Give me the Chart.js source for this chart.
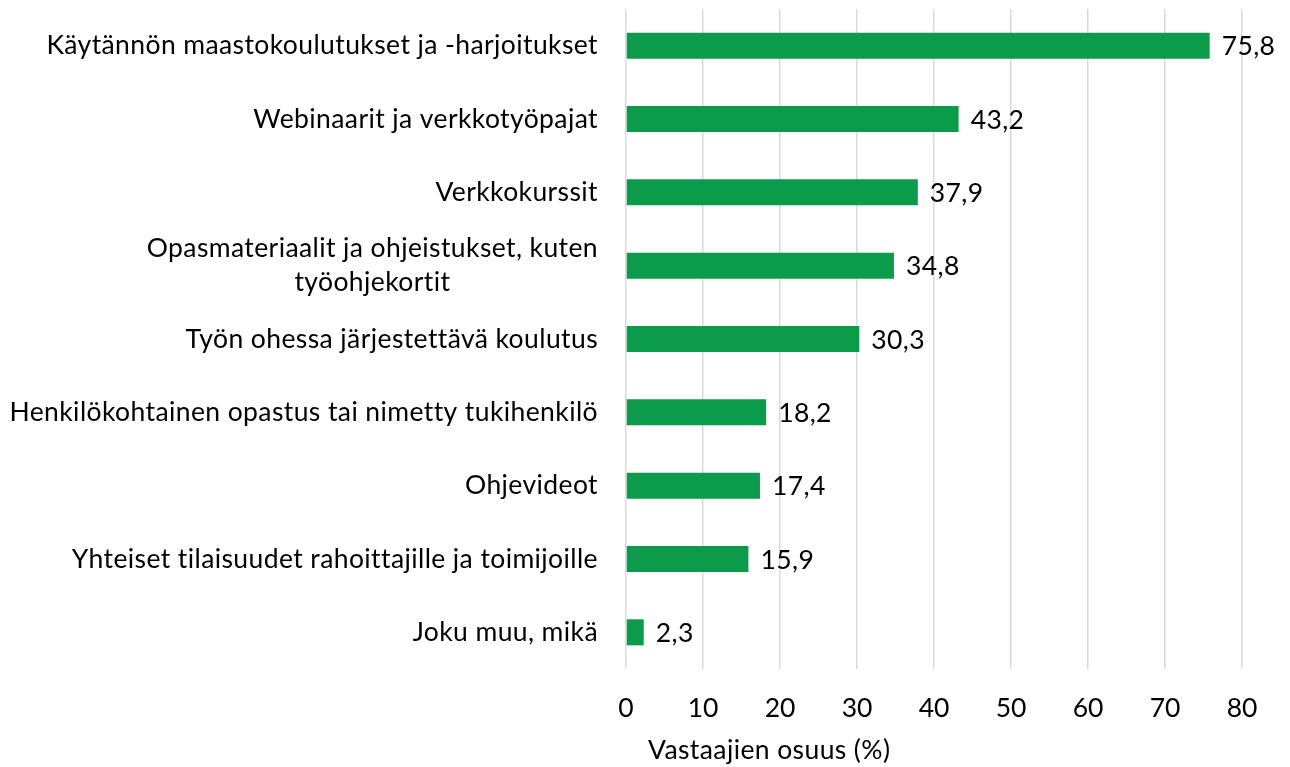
<!DOCTYPE html>
<html>
<head>
<meta charset="utf-8">
<script src="https://cdn.jsdelivr.net/npm/chart.js@4.4.1/dist/chart.umd.min.js"></script>
<style>
  html, body { margin: 0; padding: 0; background: #fff; }
</style>
</head>
<body>
<canvas id="Chart1" width="1290" height="767"></canvas>
<script>
// data
var categories = [
    ["Käytännön maastokoulutukset ja -harjoitukset"],
    ["Webinaarit ja verkkotyöpajat"],
    ["Verkkokurssit"],
    ["Opasmateriaalit ja ohjeistukset, kuten", "työohjekortit"],
    ["Työn ohessa järjestettävä koulutus"],
    ["Henkilökohtainen opastus tai nimetty tukihenkilö"],
    ["Ohjevideot"],
    ["Yhteiset tilaisuudet rahoittajille ja toimijoille"],
    ["Joku muu, mikä"]
];
var values = [75.8, 43.2, 37.9, 34.8, 30.3, 18.2, 17.4, 15.9, 2.3];
var tickValues = [0, 10, 20, 30, 40, 50, 60, 70, 80];
var axisTitle = "Vastaajien osuus (%)";

var FONT = "Lato, 'Liberation Sans', sans-serif";
var FONT_SIZE = 26.5;

var labelPlugin = {
    id: 'labelPlugin',
    afterDatasetsDraw: function (chart) {
        var ctx = chart.ctx;
        var yScale = chart.scales.y;
        var area = chart.chartArea;
        var meta = chart.getDatasetMeta(0);
        ctx.save();
        ctx.font = FONT_SIZE + 'px ' + FONT;
        ctx.letterSpacing = '0.4px'; // also breaks the tt ligature
        ctx.fillStyle = '#000';
        ctx.textBaseline = 'middle';

        // category labels, each block right aligned, lines centred inside it
        ctx.textAlign = 'center';
        categories.forEach(function (lines, i) {
            var yc = yScale.getPixelForTick(i);
            var w = 0;
            lines.forEach(function (l) { w = Math.max(w, ctx.measureText(l).width); });
            var right = area.left - 28;
            lines.forEach(function (l, j) {
                ctx.fillText(l, right - w / 2, yc + (j - (lines.length - 1) / 2) * 34);
            });
        });

        // value labels
        ctx.textAlign = 'left';
        meta.data.forEach(function (bar, i) {
            ctx.fillText(values[i].toFixed(1).replace('.', ','), bar.x + 12, bar.y + 1);
        });

        // axis title
        ctx.fillText(axisTitle, area.left + 22, 750);
        ctx.restore();
    }
};

var ctx1 = document.getElementById("Chart1").getContext('2d');
var myBarChart = new Chart(ctx1, {
    type: 'bar',
    data: {
        labels: categories,
        datasets: [{
            data: values,
            backgroundColor: "#0C9A4B",
            borderWidth: 0,
            barPercentage: 0.71,
            categoryPercentage: 0.5
        }]
    },
    options: {
        indexAxis: 'y',
        responsive: false,
        animation: false,
        layout: { padding: { top: 9, right: 48, bottom: 0, left: 0 } },
        plugins: {
            legend: { display: false },
            tooltip: { enabled: false }
        },
        scales: {
            x: {
                min: 0,
                max: 80,
                afterBuildTicks: function (scale) {
                    scale.ticks = tickValues.map(function (v) { return { value: v }; });
                },
                afterFit: function (scale) { scale.height = 98; },
                grid: { color: '#D9D9D9', lineWidth: 1.5, drawTicks: false },
                border: { display: false },
                ticks: {
                    color: '#000',
                    padding: 24,
                    font: { family: FONT, size: FONT_SIZE }
                }
            },
            y: {
                afterFit: function (scale) { scale.width = 626; },
                grid: { display: false },
                border: { display: false },
                ticks: { display: false }
            }
        }
    },
    plugins: [labelPlugin]
});
</script>
</body>
</html>
